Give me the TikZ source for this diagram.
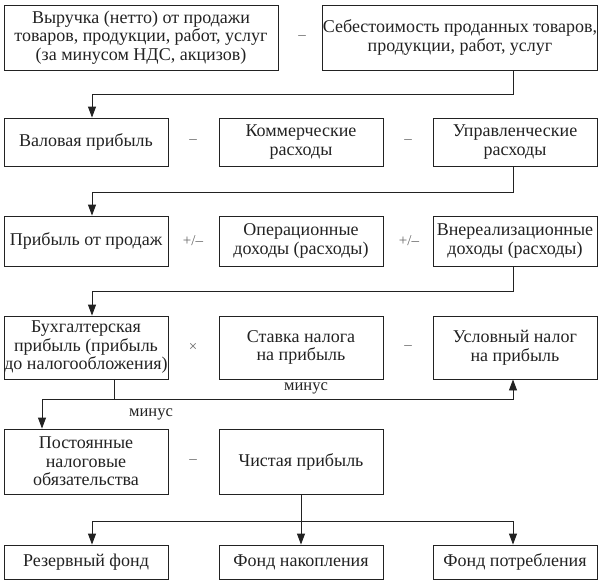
\documentclass[tikz,border=0pt]{standalone}
\usepackage{fontspec}
\setmainfont{Liberation Serif}
\usetikzlibrary{arrows.meta,positioning}
\definecolor{ink}{HTML}{222222}
\definecolor{opc}{HTML}{666666}
\tikzset{
  box/.style={draw=ink, line width=0.9pt, inner sep=0pt, align=center, text=ink,
    font=\fontsize{18}{18.5}\selectfont},
  wbox/.style={box, minimum width=274pt},
  sbox/.style={box, minimum width=164pt},
  op/.style={text=opc, font=\fontsize{15}{17}\selectfont, inner sep=0pt},
  lbl/.style={text=ink, font=\fontsize{16.5}{18}\selectfont, inner sep=0pt},
  conn/.style={draw=ink, line width=0.9pt},
  arr/.style={conn, -{Triangle[length=11pt,width=8pt]}}
}
\begin{document}
\begin{tikzpicture}[x=1pt,y=-1pt]
\useasboundingbox (0,0) rectangle (600,582);
% row 1
\node[wbox, minimum height=65pt] (A) at (141,37.5) {Выручка (нетто) от продажи\\товаров, продукции, работ, услуг\\(за минусом НДС, акцизов)};
\node[wbox, minimum height=65pt] (B) at (460,37.5) {Себестоимость проданных товаров,\\продукции, работ, услуг};
\node[op] (o1) at (302,37.5) {–};
% row 2
\node[sbox, minimum height=48pt] (r2a) at (86,142) {Валовая прибыль};
\node[sbox, minimum height=48pt] (r2b) at (301,142) {Коммерческие\\расходы};
\node[sbox, minimum height=48pt] (r2c) at (515,142) {Управленческие\\расходы};
\node[op] (o2) at (193,142) {–};
\node[op] (o3) at (408,142) {–};
% row 3
\node[sbox, minimum height=50pt] (r3a) at (86,241) {Прибыль от продаж};
\node[sbox, minimum height=50pt] (r3b) at (301,241) {Операционные\\доходы (расходы)};
\node[sbox, minimum height=50pt] (r3c) at (515,241) {Внереализационные\\доходы (расходы)};
\node[op] (o4) at (193,241) {+/–};
\node[op] (o5) at (409,241) {+/–};
% row 4
\node[sbox, minimum height=63pt] (r4a) at (86,347.5) {Бухгалтерская\\прибыль (прибыль\\до налогообложения)};
\node[sbox, minimum height=63pt] (r4b) at (301,347.5) {Ставка налога\\на прибыль};
\node[sbox, minimum height=63pt] (r4c) at (515,347.5) {Условный налог\\на прибыль};
\node[op] (o6) at (193,347.5) {×};
\node[op] (o7) at (408,347.5) {–};
% row 5
\node[sbox, minimum height=65pt] (r5a) at (86,461.5) {Постоянные\\налоговые\\обязательства};
\node[sbox, minimum height=65pt] (r5b) at (301,461.5) {Чистая прибыль};
\node[op] (o8) at (193,461.5) {–};
% row 6
\node[sbox, minimum height=34pt] (r6a) at (86,562) {Резервный фонд};
\node[sbox, minimum height=34pt] (r6b) at (301,562) {Фонд накопления};
\node[sbox, minimum height=34pt] (r6c) at (515,562) {Фонд потребления};
% helper columns
\coordinate (xR) at (513,0);
\coordinate (xL) at (92,0);
\coordinate (xB) at (114,0);
\coordinate (xLL) at (42,0);
% connectors
\draw[arr] (B.south -| xR) -- ++(0,24) -| (r2a.north -| xL);
\draw[arr] (r2c.south -| xR) -- ++(0,26) -| (r3a.north -| xL);
\draw[arr] (r3c.south -| xR) -- ++(0,25) -| (r4a.north -| xL);
\coordinate (j) at (114,399);
\draw[conn] (r4a.south -| j) -- (j);
\draw[arr] (j) -| (r4c.south -| xR);
\draw[arr] (j) -| (r5a.north -| xLL);
\node[lbl] (m1) at (306,388) {минус};
\node[lbl] (m2) at (151,414) {минус};
\coordinate (k) at (301,521);
\draw[arr] (r5b.south) -- (r6b.north);
\draw[arr] (k) -| (r6a.north -| xL);
\draw[arr] (k) -| (r6c.north -| xR);
\end{tikzpicture}
\end{document}
